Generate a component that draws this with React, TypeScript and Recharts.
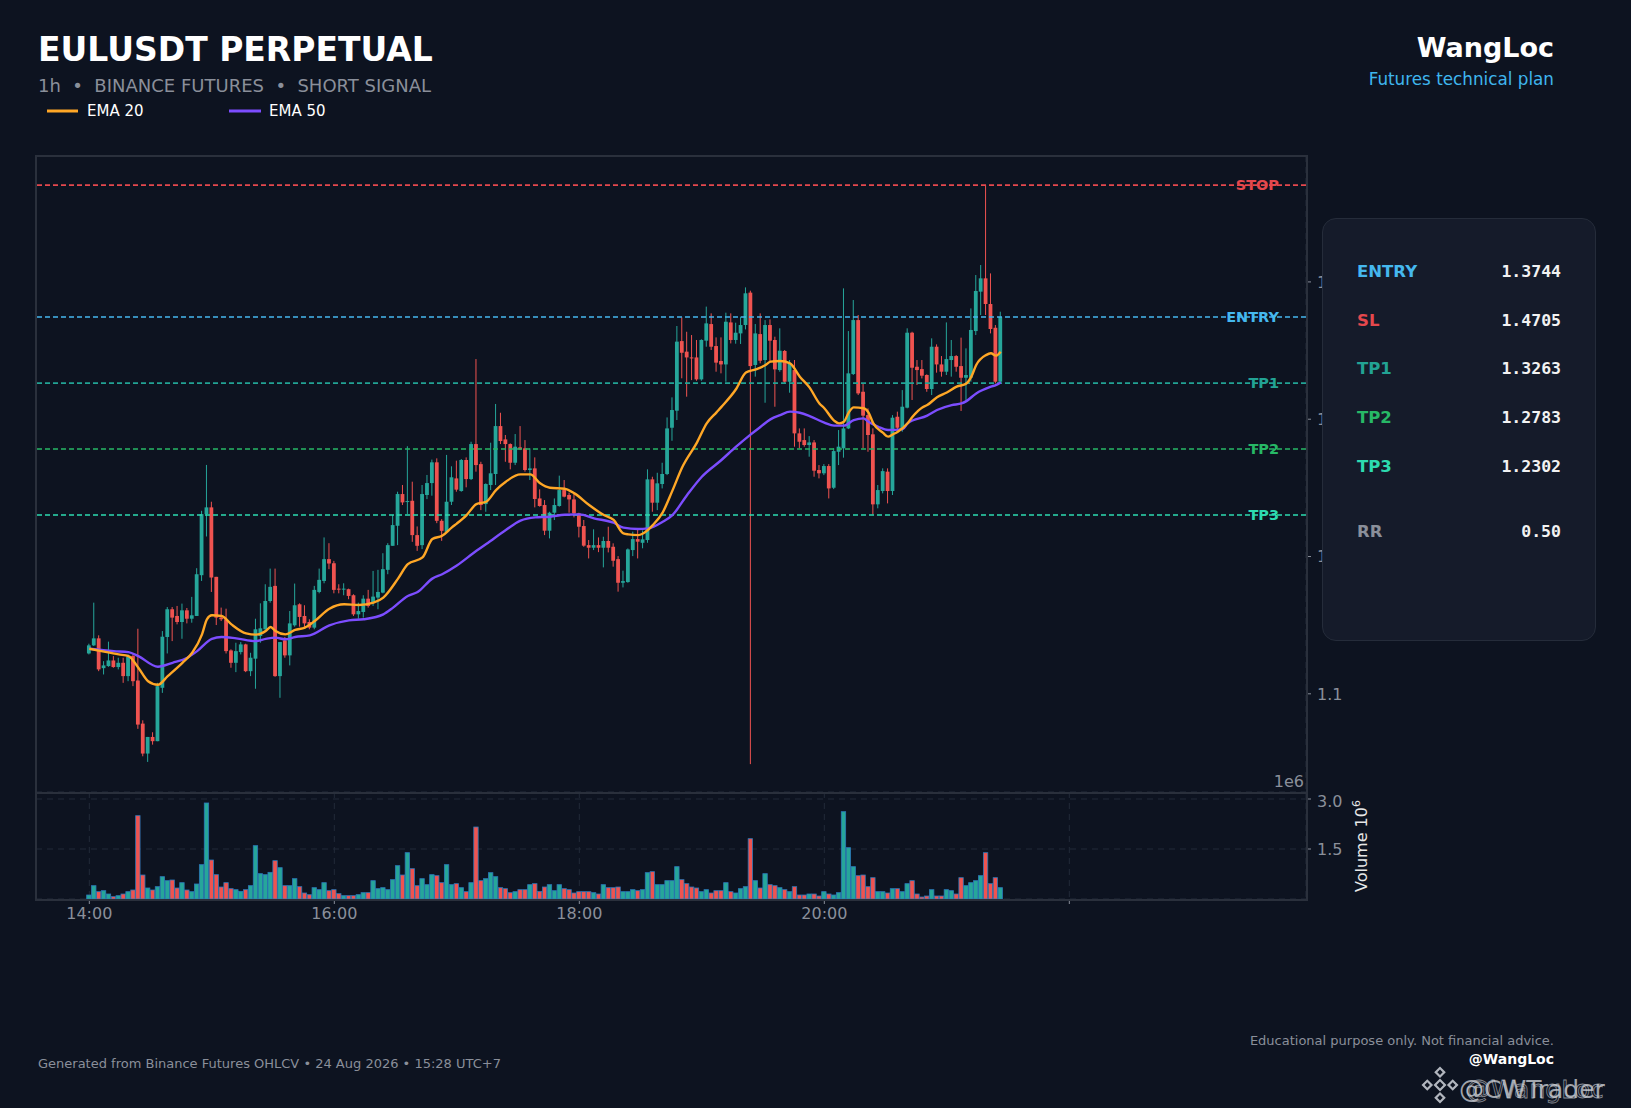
import React from "react";
import { ComposedChart, Bar, Line, XAxis, YAxis, CartesianGrid, ReferenceLine } from "recharts";

// candles, one every 2.4 min starting 14:00 (index 0)
const opens = [
  1.1294, 1.1353, 1.1404, 1.1187, 1.1202, 1.1243, 1.1195, 1.1226, 1.1129, 1.1275,
  1.1097, 1.0783, 1.0565, 1.0686, 1.0655, 1.1044, 1.1414, 1.1616, 1.1567, 1.1523,
  1.1608, 1.1547, 1.1567, 1.1864, 1.2309, 1.2358, 1.1852, 1.1555, 1.1543, 1.1316,
  1.1226, 1.1304, 1.136, 1.1165, 1.1256, 1.1421, 1.147, 1.1676, 1.1786, 1.1129,
  1.1389, 1.128, 1.1499, 1.1652, 1.1567, 1.1523, 1.1482, 1.1742, 1.1822, 1.1981,
  1.1951, 1.1766, 1.1762, 1.1762, 1.1718, 1.1579, 1.1596, 1.1693, 1.1664, 1.1701,
  1.1737, 1.1903, 1.2078, 1.2224, 1.2455, 1.2399, 1.2406, 1.2156, 1.2083, 1.2448,
  1.2535, 1.2686, 1.226, 1.218, 1.2399, 1.2569, 1.2477, 1.2703, 1.2564, 1.2819,
  1.2673, 1.2382, 1.2521, 1.2601, 1.295, 1.2853, 1.2819, 1.2683, 1.2795, 1.2788,
  1.263, 1.2642, 1.2423, 1.2375, 1.2188, 1.2319, 1.2368, 1.2484, 1.2448, 1.2416,
  1.2314, 1.2222, 1.2083, 1.2064, 1.2083, 1.2064, 1.2113, 1.2071, 1.1981, 1.1809,
  1.1814, 1.2047, 1.2127, 1.21, 1.212, 1.2562, 1.2392, 1.2528, 1.2601, 1.2938,
  1.3062, 1.3569, 1.3492, 1.345, 1.345, 1.329, 1.3572, 1.3693, 1.3533, 1.3424,
  1.3399, 1.3705, 1.3577, 1.3625, 1.3686, 1.3922, 1.3395, 1.362, 1.3431, 1.3686,
  1.3577, 1.3358, 1.3497, 1.3273, 1.3358, 1.2897, 1.2848, 1.2812, 1.2831, 1.263,
  1.2606, 1.2659, 1.2501, 1.2763, 1.2788, 1.2933, 1.3329, 1.3722, 1.32, 1.303,
  1.289, 1.238, 1.2477, 1.2618, 1.2477, 1.3018, 1.2933, 1.3084, 1.363, 1.3382,
  1.3365, 1.3322, 1.322, 1.3528, 1.3399, 1.3346, 1.3431, 1.346, 1.3387, 1.3302,
  1.3302, 1.3642, 1.3929, 1.4026, 1.3839, 1.3666, 1.3273,
];
const highs = [
  1.1365, 1.1664, 1.1426, 1.1238, 1.138, 1.1275, 1.1263, 1.1263, 1.1287, 1.1287,
  1.1474, 1.0807, 1.0686, 1.072, 1.108, 1.1457, 1.1632, 1.1632, 1.164, 1.1657,
  1.1625, 1.1706, 1.1915, 1.2333, 1.2667, 1.2399, 1.1852, 1.1628, 1.162, 1.1324,
  1.1372, 1.1377, 1.1365, 1.1299, 1.1547, 1.1659, 1.1798, 1.1912, 1.1912, 1.1377,
  1.1414, 1.1603, 1.1803, 1.1659, 1.1645, 1.1543, 1.1786, 1.1912, 1.2139, 1.2097,
  1.1968, 1.1798, 1.1805, 1.1766, 1.1725, 1.1664, 1.1718, 1.1757, 1.1895, 1.1903,
  1.2024, 1.2097, 1.2302, 1.2472, 1.2521, 1.2803, 1.2545, 1.2219, 1.2521, 1.2594,
  1.2706, 1.2715, 1.2272, 1.274, 1.2657, 1.2698, 1.271, 1.2722, 1.2836, 1.3438,
  1.269, 1.2533, 1.2829, 1.3111, 1.3047, 1.2885, 1.2824, 1.2892, 1.295, 1.2848,
  1.2788, 1.2722, 1.2489, 1.2411, 1.2326, 1.2423, 1.2589, 1.2557, 1.2465, 1.246,
  1.2319, 1.2266, 1.212, 1.2198, 1.2139, 1.2144, 1.2217, 1.2096, 1.2003, 1.1897,
  1.2059, 1.2181, 1.2193, 1.219, 1.2635, 1.2581, 1.261, 1.2683, 1.3013, 1.3159,
  1.3679, 1.3742, 1.3637, 1.3613, 1.3577, 1.3582, 1.382, 1.3771, 1.3596, 1.3596,
  1.3776, 1.3771, 1.3703, 1.3747, 1.396, 1.3936, 1.3693, 1.3771, 1.3722, 1.3727,
  1.3601, 1.3662, 1.3504, 1.3431, 1.3431, 1.2933, 1.2933, 1.2877, 1.2848, 1.2666,
  1.2673, 1.2673, 1.2788, 1.2921, 1.3953, 1.3642, 1.3868, 1.3759, 1.3261, 1.3079,
  1.2933, 1.2521, 1.2642, 1.2642, 1.303, 1.3055, 1.3212, 1.3662, 1.3637, 1.3431,
  1.3431, 1.3327, 1.3589, 1.3545, 1.346, 1.3705, 1.3577, 1.3467, 1.3594, 1.3516,
  1.3807, 1.405, 1.4123, 1.4706, 1.4062, 1.3686, 1.3783,
];
const lows = [
  1.1287, 1.1348, 1.1165, 1.1141, 1.1197, 1.119, 1.1178, 1.108, 1.1092, 1.1056,
  1.0745, 1.0545, 1.0504, 1.063, 1.0655, 1.1007, 1.1294, 1.1384, 1.1506, 1.1401,
  1.1513, 1.1518, 1.1567, 1.1822, 1.2146, 1.1742, 1.1501, 1.153, 1.1294, 1.119,
  1.1158, 1.1287, 1.1158, 1.1129, 1.1037, 1.1372, 1.1457, 1.1664, 1.1124, 1.0971,
  1.1263, 1.1207, 1.1489, 1.1489, 1.1482, 1.147, 1.147, 1.1732, 1.1805, 1.1908,
  1.1732, 1.1732, 1.1718, 1.1689, 1.1567, 1.1547, 1.1555, 1.1628, 1.164, 1.1616,
  1.1732, 1.1871, 1.2078, 1.2083, 1.2375, 1.2309, 1.2107, 1.2041, 1.2054, 1.2418,
  1.2443, 1.2243, 1.2114, 1.2175, 1.2375, 1.2472, 1.2472, 1.2504, 1.2557, 1.2618,
  1.2338, 1.2326, 1.2484, 1.2521, 1.2819, 1.269, 1.2635, 1.2666, 1.2775, 1.2618,
  1.2557, 1.2358, 1.2363, 1.2156, 1.2132, 1.2266, 1.2363, 1.2431, 1.2319, 1.2285,
  1.2139, 1.2071, 1.1986, 1.2047, 1.2032, 1.1921, 1.203, 1.1926, 1.1744, 1.1775,
  1.1809, 1.2003, 1.1986, 1.206, 1.21, 1.2326, 1.2338, 1.2496, 1.2593, 1.2843,
  1.2994, 1.3298, 1.3164, 1.3285, 1.328, 1.328, 1.3528, 1.3504, 1.3346, 1.3334,
  1.3273, 1.3552, 1.355, 1.3548, 1.3654, 1.0488, 1.331, 1.3407, 1.312, 1.3419,
  1.3091, 1.3346, 1.3261, 1.3193, 1.28, 1.2788, 1.28, 1.2727, 1.2581, 1.2569,
  1.2593, 1.2423, 1.2491, 1.2666, 1.272, 1.2928, 1.3322, 1.3176, 1.2788, 1.2763,
  1.2307, 1.2351, 1.246, 1.2387, 1.2448, 1.2909, 1.2909, 1.3079, 1.314, 1.3249,
  1.3297, 1.32, 1.3176, 1.3339, 1.331, 1.3322, 1.331, 1.3346, 1.306, 1.3128,
  1.3273, 1.3613, 1.3759, 1.3759, 1.3625, 1.3261, 1.3261,
];
const closes = [
  1.1353, 1.1404, 1.1178, 1.1207, 1.1243, 1.1195, 1.1226, 1.1129, 1.127, 1.1092,
  1.0776, 1.0565, 1.0686, 1.0655, 1.1056, 1.1416, 1.1616, 1.1555, 1.1523, 1.1608,
  1.1547, 1.1572, 1.1871, 1.2309, 1.2358, 1.1847, 1.1555, 1.1543, 1.1311, 1.1226,
  1.1311, 1.136, 1.1165, 1.1263, 1.147, 1.1477, 1.1676, 1.1779, 1.1129, 1.1377,
  1.128, 1.1513, 1.1645, 1.156, 1.1513, 1.1482, 1.1757, 1.183, 1.1981, 1.1949,
  1.1757, 1.1762, 1.1766, 1.1713, 1.1579, 1.1603, 1.1693, 1.164, 1.1708, 1.1742,
  1.1908, 1.2083, 1.2229, 1.2455, 1.2394, 1.2404, 1.2156, 1.2078, 1.2455, 1.2535,
  1.2686, 1.226, 1.2187, 1.2399, 1.2577, 1.2487, 1.2703, 1.2564, 1.2819, 1.2666,
  1.2375, 1.2528, 1.2606, 1.295, 1.2841, 1.2819, 1.2683, 1.28, 1.278, 1.263,
  1.2642, 1.2419, 1.2368, 1.2188, 1.2319, 1.2375, 1.2484, 1.2436, 1.2416, 1.2314,
  1.2217, 1.2079, 1.2064, 1.2083, 1.2064, 1.2113, 1.2064, 1.1969, 1.1809, 1.1821,
  1.2052, 1.2127, 1.2108, 1.2125, 1.2562, 1.2392, 1.2533, 1.2601, 1.2933, 1.3067,
  1.3565, 1.3484, 1.345, 1.3448, 1.329, 1.3577, 1.3698, 1.3528, 1.3412, 1.3399,
  1.371, 1.3577, 1.363, 1.3686, 1.3917, 1.3387, 1.3625, 1.3426, 1.3686, 1.3572,
  1.3363, 1.3499, 1.3273, 1.3407, 1.2897, 1.2836, 1.2812, 1.2831, 1.2625, 1.2606,
  1.2659, 1.2496, 1.2768, 1.28, 1.2933, 1.3334, 1.3722, 1.3188, 1.3026, 1.2885,
  1.238, 1.2484, 1.2622, 1.2477, 1.3011, 1.2938, 1.3091, 1.363, 1.3375, 1.3358,
  1.3317, 1.322, 1.3528, 1.3399, 1.3346, 1.3438, 1.346, 1.3382, 1.3302, 1.3322,
  1.365, 1.3934, 1.4026, 1.3839, 1.3657, 1.3273, 1.3744,
];
// volume in millions
const volumes = [
  0.12, 0.4, 0.22, 0.25, 0.15, 0.07, 0.1, 0.15, 0.22, 0.27,
  2.5, 0.72, 0.33, 0.27, 0.37, 0.67, 0.55, 0.57, 0.33, 0.49,
  0.27, 0.22, 0.45, 1.03, 2.88, 1.17, 0.73, 0.36, 0.49, 0.31,
  0.28, 0.23, 0.28, 0.4, 1.6, 0.76, 0.73, 0.8, 1.15, 0.94,
  0.4, 0.4, 0.61, 0.37, 0.18, 0.13, 0.34, 0.28, 0.49, 0.25,
  0.28, 0.16, 0.1, 0.1, 0.1, 0.13, 0.19, 0.19, 0.55, 0.31,
  0.34, 0.28, 0.58, 1.0, 0.72, 1.39, 0.91, 0.4, 0.61, 0.43,
  0.73, 0.7, 0.49, 1.03, 0.43, 0.46, 0.34, 0.22, 0.49, 2.16,
  0.55, 0.61, 0.79, 0.67, 0.34, 0.31, 0.19, 0.22, 0.28, 0.28,
  0.43, 0.46, 0.23, 0.36, 0.43, 0.25, 0.43, 0.31, 0.28, 0.18,
  0.22, 0.22, 0.22, 0.19, 0.15, 0.43, 0.34, 0.34, 0.36, 0.22,
  0.22, 0.28, 0.25, 0.28, 0.79, 0.82, 0.43, 0.43, 0.55, 0.55,
  0.97, 0.58, 0.46, 0.36, 0.33, 0.22, 0.28, 0.18, 0.25, 0.25,
  0.49, 0.22, 0.18, 0.31, 0.37, 1.81, 0.55, 0.33, 0.76, 0.43,
  0.4, 0.34, 0.28, 0.22, 0.37, 0.12, 0.12, 0.15, 0.15, 0.09,
  0.22, 0.15, 0.12, 0.19, 2.62, 1.54, 0.97, 0.7, 0.72, 0.37,
  0.64, 0.22, 0.22, 0.18, 0.31, 0.31, 0.22, 0.46, 0.55, 0.15,
  0.06, 0.09, 0.28, 0.09, 0.09, 0.28, 0.25, 0.15, 0.64, 0.4,
  0.49, 0.55, 0.7, 1.39, 0.46, 0.64, 0.34,
];

// EMA lines at these candle indices
const ema20Idx = [0, 3, 6, 8, 10, 12, 14, 16, 19, 21, 23, 24, 25, 27, 29, 32, 34, 36, 37, 38, 40, 42, 44, 46, 49, 52, 55, 58, 60, 63, 65, 68, 70, 72, 74, 75, 77, 79, 81, 83, 85, 88, 90, 92, 94, 97, 99, 102, 105, 107, 109, 110, 112, 113, 115, 117, 119, 121, 124, 126, 128, 129, 132, 134, 136, 138, 139, 141, 143, 145, 147, 149, 150, 152, 153, 154, 155, 156, 158, 159, 160, 162, 163, 164, 165, 167, 168, 170, 171, 173, 175, 177, 179, 180, 181, 183, 184, 185, 186];
const ema20Val = [1.1328, 1.1307, 1.1287, 1.1275, 1.119, 1.1092, 1.1066, 1.1129, 1.1226, 1.1299, 1.1433, 1.1543, 1.1572, 1.1567, 1.1506, 1.144, 1.1431, 1.1457, 1.1487, 1.1457, 1.1433, 1.1465, 1.1482, 1.153, 1.162, 1.1652, 1.1647, 1.1664, 1.1701, 1.1839, 1.1944, 1.1993, 1.2127, 1.2151, 1.2212, 1.224, 1.2302, 1.2382, 1.2399, 1.2484, 1.2545, 1.2598, 1.2598, 1.2533, 1.2501, 1.2494, 1.246, 1.2375, 1.2302, 1.2266, 1.2168, 1.2161, 1.2156, 1.2168, 1.2229, 1.232, 1.248, 1.265, 1.283, 1.297, 1.305, 1.309, 1.322, 1.334, 1.3363, 1.3395, 1.3419, 1.3424, 1.3407, 1.331, 1.323, 1.3115, 1.308, 1.299, 1.297, 1.2982, 1.305, 1.3086, 1.308, 1.305, 1.297, 1.29, 1.2873, 1.289, 1.2909, 1.297, 1.3018, 1.3086, 1.3103, 1.316, 1.3195, 1.3237, 1.326, 1.331, 1.3395, 1.3467, 1.348, 1.3463, 1.3492];
const ema50Idx = [0, 5, 8, 10, 14, 17, 20, 22, 25, 27, 30, 34, 36, 38, 40, 42, 45, 49, 53, 56, 60, 62, 65, 67, 70, 72, 75, 79, 81, 85, 88, 91, 94, 97, 100, 103, 107, 109, 112, 114, 117, 119, 122, 125, 129, 132, 135, 137, 139, 141, 143, 145, 147, 150, 152, 154, 156, 158, 159, 161, 163, 166, 167, 171, 173, 176, 178, 179, 181, 184, 185, 186];
const ema50Val = [1.1328, 1.1311, 1.1304, 1.1275, 1.1197, 1.1226, 1.1263, 1.1311, 1.1401, 1.1414, 1.1404, 1.1384, 1.14, 1.1409, 1.1397, 1.1414, 1.1426, 1.1499, 1.1535, 1.1543, 1.1579, 1.1628, 1.1713, 1.1742, 1.1839, 1.1871, 1.1935, 1.2042, 1.2091, 1.2193, 1.2261, 1.2285, 1.229, 1.2304, 1.2307, 1.2278, 1.2246, 1.221, 1.22, 1.2205, 1.2253, 1.2302, 1.2448, 1.2581, 1.2703, 1.28, 1.289, 1.2945, 1.2999, 1.303, 1.3055, 1.3047, 1.3023, 1.2975, 1.2953, 1.2953, 1.2994, 1.3006, 1.2982, 1.2945, 1.2921, 1.2928, 1.297, 1.3026, 1.3067, 1.3103, 1.3115, 1.3132, 1.3188, 1.3237, 1.3249, 1.3268];

const timeTicks = [0, 50, 100, 150, 200];
const timeLabels = ["14:00", "16:00", "18:00", "20:00", ""];
const priceTicks = [1.1, 1.2, 1.3, 1.4];
const volumeTicks = [1.5, 3.0];

const levelNames = ["STOP", "ENTRY", "TP1", "TP2", "TP3"];
const levelValues = [1.4705, 1.3744, 1.3263, 1.2783, 1.2302];
const levelColors = ["#e5484d", "#45b8ee", "#22a394", "#27b866", "#2ddbb0"];

const planLabels = ["ENTRY", "SL", "TP1", "TP2", "TP3", "RR"];
const planValues = ["1.3744", "1.4705", "1.3263", "1.2783", "1.2302", "0.50"];
const planColors = ["#45b8ee", "#e5484d", "#22a394", "#27b866", "#2ddbb0", "#8a8f9a"];
const planRowY = [53, 102, 150, 199, 248, 313];

const BG = "#0d1320";
const MUTED = "#8a8f9a";
const UP = "#26a69a";
const DOWN = "#ef5350";
const FONT = "'DejaVu Sans', sans-serif";

const rows: any[] = opens.map((o, i) => ({
  i,
  open: o,
  high: highs[i],
  low: lows[i],
  close: closes[i],
  range: [lows[i], highs[i]],
  vol: volumes[i],
}));
ema20Idx.forEach((k, j) => (rows[k].ema20 = ema20Val[j]));
ema50Idx.forEach((k, j) => (rows[k].ema50 = ema50Val[j]));

const X_DOMAIN: [number, number] = [-10.88, 248.3];

function Candle(props: any) {
  const { x, y, width, height, payload } = props;
  if (x == null || y == null || !payload) return null;
  const top = Math.min(y, y + height);
  const h = Math.abs(height);
  const span = payload.high - payload.low;
  const ppu = span > 0 ? h / span : 0;
  const py = (p: number) => top + (payload.high - p) * ppu;
  const cx = x + width / 2;
  const up = payload.close >= payload.open;
  const color = up ? UP : DOWN;
  const bTop = py(Math.max(payload.open, payload.close));
  const bBot = py(Math.min(payload.open, payload.close));
  return (
    <g>
      <line x1={cx} x2={cx} y1={top} y2={top + h} stroke={color} strokeWidth={1} />
      <rect x={cx - 1.9} y={bTop} width={3.8} height={Math.max(1, bBot - bTop)} fill={color} />
    </g>
  );
}

function VolBar(props: any) {
  const { x, y, width, height, payload } = props;
  if (x == null || y == null || !payload) return null;
  const cx = x + width / 2;
  const color = payload.close >= payload.open ? UP : DOWN;
  return (
    <rect x={cx - 2.2} y={y} width={4.4} height={Math.max(0, height)} fill={color} stroke="#2b78b8" strokeWidth={0.8} />
  );
}

function levelLabel(name: string, color: string) {
  return (p: any) => {
    const vb = p.viewBox;
    if (!vb) return null;
    return (
      <text x={vb.x + vb.width - 27} y={vb.y} dy={5} textAnchor="end" fill={color} fontSize={14.5} fontWeight="bold" fontFamily={FONT}>
        {name}
      </text>
    );
  };
}

export default function App() {
  return (
    <div style={{ position: "absolute", left: 0, top: 0, width: 1631, height: 1108, background: BG, overflow: "hidden", fontFamily: FONT }}>
      <svg width={1631} height={1108} style={{ position: "absolute", left: 0, top: 0 }}>
        <text x={38} y={61} fill="#ffffff" fontSize={33} fontWeight="bold" fontFamily={FONT}>EULUSDT PERPETUAL</text>
        <text x={38} y={92} fill={MUTED} fontSize={18} fontFamily={FONT} style={{ whiteSpace: "pre" }}>
          {"1h  •  BINANCE FUTURES  •  SHORT SIGNAL"}
        </text>
        <line x1={47} x2={78} y1={111} y2={111} stroke="#ffa726" strokeWidth={3} />
        <text x={87} y={116} fill="#ffffff" fontSize={15} fontFamily={FONT}>EMA 20</text>
        <line x1={229} x2={261} y1={111} y2={111} stroke="#7c4dff" strokeWidth={3} />
        <text x={269} y={116} fill="#ffffff" fontSize={15} fontFamily={FONT}>EMA 50</text>

        <text x={1554} y={57} textAnchor="end" fill="#ffffff" fontSize={27} fontWeight="bold" fontFamily={FONT}>WangLoc</text>
        <text x={1554} y={85} textAnchor="end" fill="#3fb6ee" fontSize={16.8} fontFamily={FONT}>Futures technical plan</text>

        <text x={1304} y={787} textAnchor="end" fill={MUTED} fontSize={16} fontFamily={FONT}>1e6</text>
        <text x={1367} y={846} transform="rotate(-90 1367 846)" textAnchor="middle" fill="#e8e8e8" fontSize={16} fontFamily={FONT}>
          Volume  10<tspan dy={-7} fontSize={11}>6</tspan>
        </text>

        <text x={38} y={1068} fill={MUTED} fontSize={13} fontFamily={FONT}>
          Generated from Binance Futures OHLCV • 24 Aug 2026 • 15:28 UTC+7
        </text>
        <text x={1554} y={1045} textAnchor="end" fill={MUTED} fontSize={13} fontFamily={FONT}>
          Educational purpose only. Not financial advice.
        </text>
        <text x={1554} y={1064} textAnchor="end" fill="#ffffff" fontSize={14} fontWeight="bold" fontFamily={FONT}>@WangLoc</text>

        <g transform="translate(1440 1085) rotate(45)" fill="none" stroke="#cfd3da" strokeWidth={2.2} opacity={0.85}>
          <rect x={-3.5} y={-3.5} width={7} height={7} />
          <rect x={-12} y={-12} width={6} height={6} />
          <rect x={6} y={6} width={6} height={6} />
          <rect x={6} y={-12} width={6} height={6} />
          <rect x={-12} y={6} width={6} height={6} />
        </g>
        <text x={1459} y={1098} fill="#d3d6dc" fontSize={25} fontFamily={FONT} opacity={0.75}>@CWTrader</text>
        <text x={1466} y={1098} fill="none" stroke="#d3d6dc" strokeWidth={0.8} fontSize={25} fontFamily={FONT} opacity={0.6}>@WangLoc</text>
      </svg>

      <div style={{ position: "absolute", left: 0, top: 140 }}>
        <ComposedChart width={1420} height={652} data={rows} margin={{ top: 16, right: 0, bottom: 0, left: 36 }}>
          <CartesianGrid stroke="#222a38" strokeDasharray="6 5" strokeWidth={1} />
          <XAxis
            type="number"
            dataKey="i"
            domain={X_DOMAIN}
            ticks={timeTicks}
            allowDataOverflow
            height={0}
            tick={false}
            axisLine={false}
            tickLine={false}
          />
          <YAxis
            yAxisId="p"
            orientation="right"
            type="number"
            domain={[1.0285, 1.4917]}
            allowDataOverflow
            ticks={priceTicks}
            tickFormatter={(v: number) => v.toFixed(1)}
            tick={{ fill: MUTED, fontSize: 16, fontFamily: FONT }}
            tickLine={{ stroke: MUTED }}
            tickSize={5}
            tickMargin={6}
            axisLine={false}
            width={114}
          />
          {levelValues.map((v, k) => (
            <ReferenceLine
              key={levelNames[k]}
              yAxisId="p"
              y={v}
              stroke={levelColors[k]}
              strokeWidth={1.6}
              strokeDasharray="5 3"
              label={levelLabel(levelNames[k], levelColors[k])}
            />
          ))}
          <Bar yAxisId="p" dataKey="range" barSize={4} shape={Candle} isAnimationActive={false} />
          <Line yAxisId="p" type="monotone" dataKey="ema50" stroke="#7c4dff" strokeWidth={2.4} dot={false} connectNulls isAnimationActive={false} />
          <Line yAxisId="p" type="monotone" dataKey="ema20" stroke="#ffa726" strokeWidth={2.4} dot={false} connectNulls isAnimationActive={false} />
        </ComposedChart>
      </div>

      <div style={{ position: "absolute", left: 0, top: 792 }}>
        <ComposedChart width={1420} height={147} data={rows} margin={{ top: 0, right: 0, bottom: 0, left: 36 }}>
          <CartesianGrid stroke="#222a38" strokeDasharray="6 5" strokeWidth={1} />
          <XAxis
            type="number"
            dataKey="i"
            domain={X_DOMAIN}
            ticks={timeTicks}
            allowDataOverflow
            tickFormatter={(v: number) => timeLabels[timeTicks.indexOf(v)] ?? ""}
            tick={{ fill: MUTED, fontSize: 16, fontFamily: FONT }}
            tickLine={{ stroke: MUTED }}
            tickSize={5}
            tickMargin={4}
            axisLine={false}
            height={40}
          />
          <YAxis
            orientation="right"
            type="number"
            domain={[0, 3.21]}
            allowDataOverflow
            ticks={volumeTicks}
            tickFormatter={(v: number) => v.toFixed(1)}
            tick={{ fill: MUTED, fontSize: 16, fontFamily: FONT }}
            tickLine={{ stroke: MUTED }}
            tickSize={5}
            tickMargin={6}
            axisLine={false}
            width={114}
          />
          <Bar dataKey="vol" barSize={4} shape={VolBar} isAnimationActive={false} />
        </ComposedChart>
      </div>

      <div style={{ position: "absolute", left: 35, top: 155, width: 1273, height: 639, border: "2px solid #2a303c", boxSizing: "border-box", pointerEvents: "none" }} />
      <div style={{ position: "absolute", left: 35, top: 792, width: 1273, height: 109, border: "2px solid #2a303c", boxSizing: "border-box", pointerEvents: "none" }} />

      <div
        style={{
          position: "absolute",
          left: 1322,
          top: 218,
          width: 274,
          height: 423,
          background: "#151b2a",
          border: "1.5px solid #252c3a",
          borderRadius: 14,
          boxSizing: "border-box",
        }}
      >
        {planLabels.map((lab, k) => (
          <React.Fragment key={lab}>
            <div style={{ position: "absolute", left: 34, top: planRowY[k] - 11, color: planColors[k], fontSize: 16.5, fontWeight: "bold", fontFamily: FONT, lineHeight: "22px" }}>
              {lab}
            </div>
            <div style={{ position: "absolute", right: 34, top: planRowY[k] - 11, color: "#f2f2f2", fontSize: 16.5, fontWeight: "bold", fontFamily: "'DejaVu Sans Mono', monospace", lineHeight: "22px" }}>
              {planValues[k]}
            </div>
          </React.Fragment>
        ))}
      </div>
    </div>
  );
}
